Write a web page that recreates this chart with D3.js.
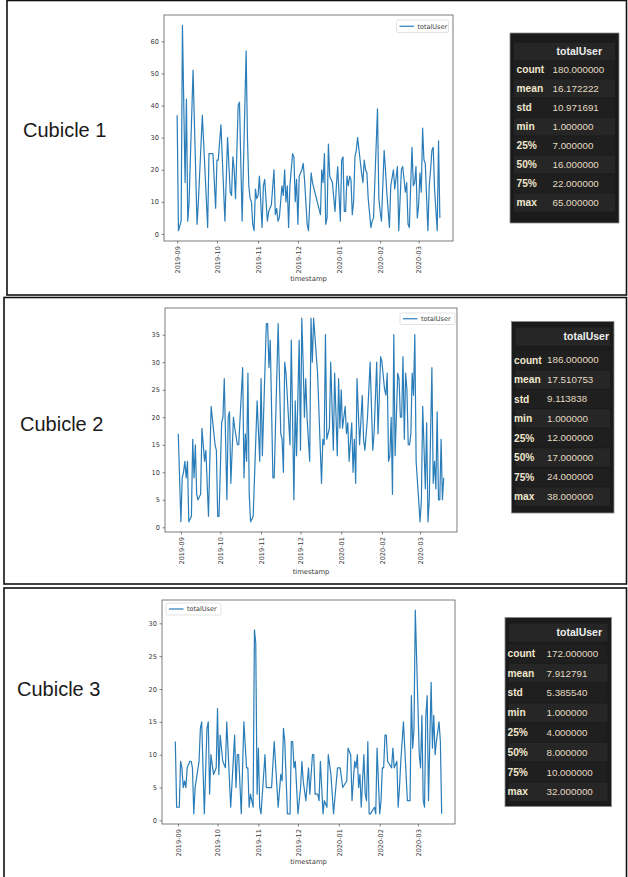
<!DOCTYPE html>
<html>
<head>
<meta charset="utf-8">
<script src="https://cdn.jsdelivr.net/npm/d3@7"></script>
<style>
body { margin: 0; background: #fff; }
svg { display: block; }
</style>
</head>
<body>
<div id="chart"></div>
<script>
// x = days counted from 2019-09-01, y = totalUser
var cubicle1Days = [0,1,3,4,6,7,8,9,12,15,16,19,23,24,27,29,30,31,33,36,38,40,41,42,43,44,46,47,48,49,52,53,54,55,56,57,58,59,60,61,62,64,65,66,68,69,71,73,74,75,76,77,79,80,81,82,83,84,85,87,88,89,90,91,92,94,95,96,98,99,101,102,105,108,109,110,111,112,113,114,115,117,119,120,121,123,124,125,126,127,128,129,130,131,132,133,134,135,136,139,140,141,142,143,144,146,147,148,151,152,153,154,156,157,158,160,161,163,164,166,167,169,170,172,173,174,175,176,177,178,179,180,181,182,183,184,185,186,187,189,190,191,192,193,194,196,197,198];
var cubicle1Users = [37,1,4,65,16,42,4,10,51,3,10,37,2,25,25,8,23,23,34,4,30,13,12,24,20,11,40,41,22,4,57,30,15,11,10,3,1,14,11,12,18,2,15,17,4,7,9,20,6,8,4,5,15,12,20,10,15,2,15,25,24,10,17,3,18,20,22,17,3,1,19,16,11,6,20,16,25,3,5,28,18,16,7,15,21,4,23,24,7,7,18,15,18,17,6,10,24,26,30,19,16,23,20,19,11,2,4,5,39,11,7,4,26,20,13,2,15,20,14,21,1,20,21,13,16,3,2,15,27,15,16,21,5,9,19,13,33,23,22,1,15,20,26,27,14,1,29,5];

var cubicle2Days = [-2,0,1,2,3,4,5,6,8,9,10,11,12,13,15,16,18,19,21,23,26,27,28,29,31,32,33,35,36,37,38,40,41,43,44,47,48,49,50,51,52,53,55,58,60,61,62,65,66,67,68,70,71,74,76,77,78,79,80,83,84,86,87,88,90,91,92,93,94,95,96,98,99,100,101,104,107,108,109,110,111,113,114,116,117,119,120,121,122,123,125,126,127,128,130,131,132,133,134,136,138,139,140,142,144,146,147,149,150,152,153,155,156,157,158,159,160,161,162,163,165,166,167,168,169,170,171,172,173,174,175,176,177,178,179,182,183,184,186,187,188,189,191,192,193,194,195,196,197,198,199,200];
var cubicle2Users = [17,1,9,10,12,9,12,1,2,16,9,15,6,5,6,18,12,14,2,22,15,14,2,2,19,20,27,5,20,21,8,20,18,15,15,29,9,17,12,28,6,1,2,23,12,27,13,37,37,29,34,9,9,37,17,16,10,30,28,15,34,5,23,13,34,14,38,30,20,27,20,12,38,30,38,28,8,16,15,35,16,18,30,14,28,13,27,18,25,18,22,17,19,12,19,10,16,8,27,15,24,16,14,20,30,14,17,30,17,31,30,25,24,28,12,13,20,6,35,13,28,27,20,20,31,16,28,25,15,15,17,28,24,35,12,1,5,22,7,19,1,5,29,8,12,7,21,5,5,16,5,9];

var cubicle3Days = [-2,-1,1,2,3,4,5,6,7,9,10,11,12,13,16,17,18,20,22,23,24,25,27,29,30,31,32,34,36,37,40,43,44,45,46,48,50,52,53,54,55,56,57,58,59,60,61,62,63,66,67,69,71,73,76,78,79,80,81,83,85,86,87,88,89,91,93,94,95,97,99,100,102,103,104,106,107,108,110,111,113,114,116,118,121,123,125,128,129,131,132,134,135,136,137,138,139,141,142,143,144,145,146,149,150,151,153,154,155,156,157,158,159,162,163,164,166,167,168,169,171,172,174,176,177,178,179,180,183,184,185,186,187,188,189,190,192,193,194,195,196,198,199,200];
var cubicle3Users = [12,2,2,9,8,5,6,5,8,9,9,8,1,5,9,14,15,1,14,15,4,10,7,8,17,7,13,9,8,15,2,13,5,10,10,1,15,8,8,2,4,3,2,29,27,4,11,2,1,10,5,5,5,12,2,7,6,14,12,1,1,12,12,8,9,1,5,9,6,3,8,4,10,10,4,4,3,9,1,3,2,10,7,1,8,8,5,6,11,10,3,9,8,10,5,7,2,10,4,3,12,1,1,2,1,11,1,3,8,8,13,13,9,8,11,8,9,2,5,9,15,11,3,3,19,11,14,32,10,8,16,3,2,16,19,3,21,11,16,10,12,15,12,1];

var monthTicks = ["2019-09","2019-10","2019-11","2019-12","2020-01","2020-02","2020-03"];
var yTicks1 = [0,10,20,30,40,50,60];
var yTicks2 = [0,5,10,15,20,25,30,35];
var yTicks3 = [0,5,10,15,20,25,30];

var statNames = ["count","mean","std","min","25%","50%","75%","max"];
var cubicle1Stats = [180, 16.172222, 10.971691, 1, 7, 16, 22, 65];
var cubicle2Stats = [186, 17.510753, 9.113838, 1, 12, 17, 24, 38];
var cubicle3Stats = [172, 7.912791, 5.385540, 1, 4, 8, 10, 32];

var W = 628, H = 877;
var origin = new Date(2019, 8, 1);
var parseMonth = d3.timeParse("%Y-%m");

var svg = d3.select("#chart").append("svg")
    .attr("width", W)
    .attr("height", H);

var panels = [
    { name: "Cubicle 1", days: cubicle1Days, users: cubicle1Users, yTicks: yTicks1, stats: cubicle1Stats,
      box: [7, 0.5, 619.5, 294.5], label: [23, 137],
      plot: { left: 164, right: 453, top: 15, bottom: 241 }, xlab: 281,
      legend: { x: 396.5, y: 20, w: 52, h: 12.5 },
      table: { left: 510, right: 619, top: 33, bottom: 223, head: 51.7, row0: 69.3, step: 19.05, lx: 516.5, vx: 552.5, hx: 602 } },
    { name: "Cubicle 2", days: cubicle2Days, users: cubicle2Users, yTicks: yTicks2, stats: cubicle2Stats,
      box: [4, 297.5, 622.5, 286.5], label: [20, 431],
      plot: { left: 165, right: 457, top: 308, bottom: 532 }, xlab: 574,
      legend: { x: 400, y: 313, w: 55, h: 11.5 },
      table: { left: 511.5, right: 614, top: 321.5, bottom: 513, head: 336.7, row0: 360, step: 19.5, lx: 514, vx: 547, hx: 609 } },
    { name: "Cubicle 3", days: cubicle3Days, users: cubicle3Users, yTicks: yTicks3, stats: cubicle3Stats,
      box: [4, 588, 622.5, 292], label: [17, 696],
      plot: { left: 162, right: 455, top: 600, bottom: 824 }, xlab: 864,
      legend: { x: 166, y: 603, w: 55, h: 12 },
      table: { left: 505, right: 611.5, top: 617.5, bottom: 806.5, head: 632.7, row0: 653.3, step: 19.8, lx: 507.5, vx: 546.5, hx: 602 } }
];

panels.forEach(drawPanel);

function drawPanel(p) {
    var g = svg.append("g");

    // outer frame of the panel
    g.append("rect")
        .attr("x", p.box[0]).attr("y", p.box[1])
        .attr("width", p.box[2]).attr("height", p.box[3])
        .attr("fill", "none")
        .attr("stroke", "#111")
        .attr("stroke-width", 1.6);

    g.append("text")
        .attr("x", p.label[0]).attr("y", p.label[1])
        .attr("font-family", "Liberation Sans, Arial, sans-serif")
        .attr("font-size", 20)
        .attr("fill", "#1a1a1a")
        .text(p.name);

    var data = p.days.map(function (d, i) {
        return { date: d3.timeDay.offset(origin, d), v: p.users[i] };
    });

    // matplotlib style 5% margins
    var xe = d3.extent(data, function (d) { return +d.date; });
    var xp = (xe[1] - xe[0]) * 0.05;
    var ye = d3.extent(data, function (d) { return d.v; });
    var yp = (ye[1] - ye[0]) * 0.05;

    var x = d3.scaleTime()
        .domain([new Date(xe[0] - xp), new Date(xe[1] + xp)])
        .range([p.plot.left, p.plot.right]);
    var y = d3.scaleLinear()
        .domain([ye[0] - yp, ye[1] + yp])
        .range([p.plot.bottom, p.plot.top]);

    var xAxis = g.append("g")
        .attr("transform", "translate(0," + p.plot.bottom + ")")
        .call(d3.axisBottom(x)
            .tickValues(monthTicks.map(parseMonth))
            .tickFormat(d3.timeFormat("%Y-%m"))
            .tickSize(2.5)
            .tickPadding(2));
    xAxis.select(".domain").remove();
    xAxis.selectAll("line").attr("stroke", "#333").attr("stroke-width", 0.6);
    xAxis.selectAll("text")
        .attr("font-family", "DejaVu Sans, sans-serif")
        .attr("font-size", 6.6)
        .attr("fill", "#3a3a3a")
        .attr("text-anchor", "end")
        .attr("transform", "rotate(-90)")
        .attr("x", -5)
        .attr("y", 0)
        .attr("dy", "0.35em");

    var yAxis = g.append("g")
        .attr("transform", "translate(" + p.plot.left + ",0)")
        .call(d3.axisLeft(y)
            .tickValues(p.yTicks)
            .tickSize(2.5)
            .tickPadding(2.5));
    yAxis.select(".domain").remove();
    yAxis.selectAll("line").attr("stroke", "#333").attr("stroke-width", 0.6);
    yAxis.selectAll("text")
        .attr("font-family", "DejaVu Sans, sans-serif")
        .attr("font-size", 6.6)
        .attr("fill", "#3a3a3a");

    g.append("rect")
        .attr("x", p.plot.left).attr("y", p.plot.top)
        .attr("width", p.plot.right - p.plot.left)
        .attr("height", p.plot.bottom - p.plot.top)
        .attr("fill", "none")
        .attr("stroke", "#444")
        .attr("stroke-width", 0.7);

    var line = d3.line()
        .x(function (d) { return x(d.date); })
        .y(function (d) { return y(d.v); });

    g.append("path")
        .datum(data)
        .attr("d", line)
        .attr("fill", "none")
        .attr("stroke", "#2a7db8")
        .attr("stroke-width", 1.2)
        .attr("stroke-linejoin", "round");

    g.append("text")
        .attr("x", (p.plot.left + p.plot.right) / 2)
        .attr("y", p.xlab)
        .attr("text-anchor", "middle")
        .attr("font-family", "DejaVu Sans, sans-serif")
        .attr("font-size", 6.8)
        .attr("fill", "#3a3a3a")
        .text("timestamp");

    // legend
    var L = p.legend;
    g.append("rect")
        .attr("x", L.x).attr("y", L.y)
        .attr("width", L.w).attr("height", L.h)
        .attr("rx", 1.5)
        .attr("fill", "#fff")
        .attr("stroke", "#d0d0d0")
        .attr("stroke-width", 0.6);
    g.append("line")
        .attr("x1", L.x + 3).attr("x2", L.x + 17.5)
        .attr("y1", L.y + L.h / 2).attr("y2", L.y + L.h / 2)
        .attr("stroke", "#2a7db8")
        .attr("stroke-width", 1.2);
    g.append("text")
        .attr("x", L.x + 21)
        .attr("y", L.y + L.h / 2)
        .attr("dy", "0.35em")
        .attr("font-family", "DejaVu Sans, sans-serif")
        .attr("font-size", 6.5)
        .attr("fill", "#3a3a3a")
        .text("totalUser");

    drawTable(g, p.table, p.stats);
}

function drawTable(g, t, stats) {
    var fmt = d3.format(".6f");
    g.append("rect")
        .attr("x", t.left).attr("y", t.top)
        .attr("width", t.right - t.left).attr("height", t.bottom - t.top)
        .attr("fill", "#1b1b1b")
        .attr("stroke", "#8a8a8a")
        .attr("stroke-width", 0.8);
    // header band
    g.append("rect")
        .attr("x", t.left + 4).attr("y", t.head - 9)
        .attr("width", t.right - t.left - 8).attr("height", 18)
        .attr("fill", "#262626");
    g.append("text")
        .attr("x", t.hx).attr("y", t.head)
        .attr("dy", "0.35em")
        .attr("text-anchor", "end")
        .attr("font-family", "Liberation Sans, Arial, sans-serif")
        .attr("font-weight", "bold")
        .attr("font-size", 10.5)
        .attr("fill", "#eeeeee")
        .text("totalUser");

    statNames.forEach(function (name, i) {
        var cy = t.row0 + i * t.step;
        g.append("rect")
            .attr("x", t.left + 4).attr("y", cy - t.step / 2 + 0.5)
            .attr("width", t.right - t.left - 8).attr("height", t.step - 1)
            .attr("fill", i % 2 ? "#262626" : "#1f1f1f");
        g.append("text")
            .attr("x", t.lx).attr("y", cy)
            .attr("dy", "0.35em")
            .attr("font-family", "Liberation Sans, Arial, sans-serif")
            .attr("font-weight", "bold")
            .attr("font-size", 10.2)
            .attr("fill", "#efe6cc")
            .text(name);
        g.append("text")
            .attr("x", t.vx).attr("y", cy)
            .attr("dy", "0.35em")
            .attr("font-family", "Liberation Sans, Arial, sans-serif")
            .attr("font-size", 9.8)
            .attr("fill", "#e3dac2")
            .text(fmt(stats[i]));
    });
}
</script>
</body>
</html>
